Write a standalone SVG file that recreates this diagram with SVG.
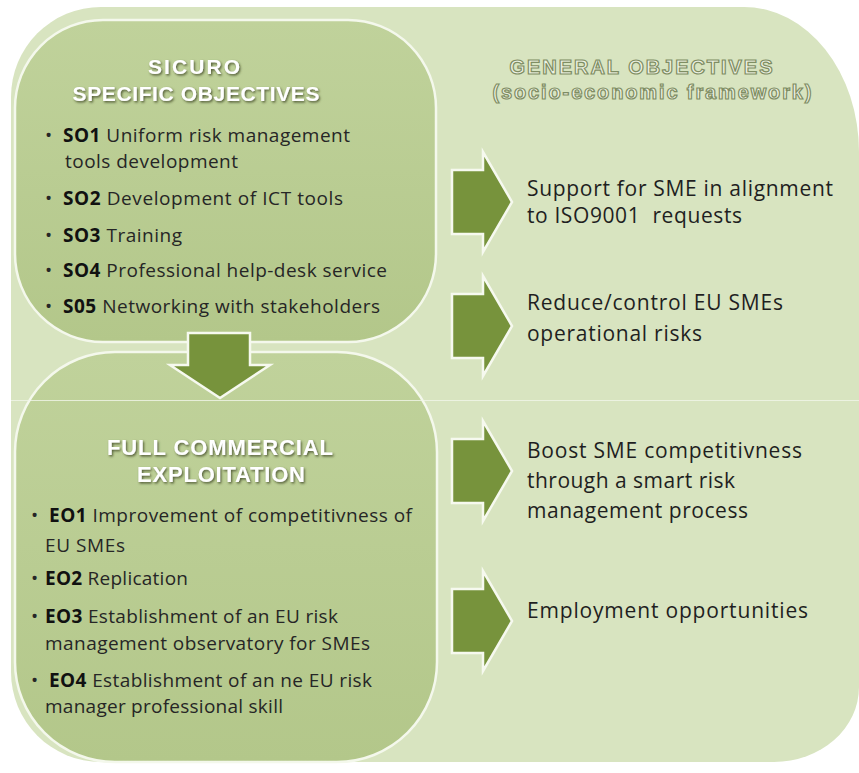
<svg xmlns="http://www.w3.org/2000/svg" width="859" height="773" viewBox="0 0 859 773">
<defs>
<filter id="sh" x="-10%" y="-30%" width="120%" height="160%">
<feDropShadow dx="1.2" dy="1.5" stdDeviation="1" flood-color="#3f4a28" flood-opacity="0.85"/>
</filter>
<linearGradient id="boxg" x1="0" y1="0" x2="0" y2="1">
<stop offset="0" stop-color="#c0d29b"/>
<stop offset="1" stop-color="#b3c78a"/>
</linearGradient>
<style>
text{font-family:"Open Sans","Liberation Sans",sans-serif}
.box{fill:url(#boxg);stroke:#f4f8ec;stroke-width:2.5}
.hdr{font-family:"Liberation Sans","Open Sans",sans-serif;font-weight:700;fill:#ffffff;text-anchor:middle}
.body{font-size:19px;fill:#262626}
.b{font-weight:700;fill:#111111}
.go{font-size:21px;fill:#1f1f1f;white-space:pre}
.gh{font-family:"Liberation Sans","Open Sans",sans-serif;font-weight:700;font-size:20px;fill:#eef3e3;stroke:#7f8d63;stroke-width:1.2;text-anchor:middle}
.arr{fill:#77933c;stroke:#f6f9ef;stroke-width:2.5;stroke-linejoin:miter}
</style>
</defs>
<g id="background">
<path d="M101,7 H744 A115,145 0 0 1 859,152 V687 A85,75 0 0 1 774,762 H101 A90,90 0 0 1 11,672 V97 A90,90 0 0 1 101,7 Z" fill="#d8e4c0"/>
</g>
<g id="node-specific-objectives">
<rect class="box" x="15" y="20" width="421" height="322" rx="88"/>
<text class="hdr" x="194" y="74" font-size="21" textLength="92" filter="url(#sh)">SICURO</text>
<text class="hdr" x="196" y="101" font-size="21" textLength="247" filter="url(#sh)">SPECIFIC OBJECTIVES</text>
<text class="body" x="45" y="142">•</text>
<text class="body" x="63" y="142" textLength="287"><tspan class="b">SO1</tspan> Uniform risk management</text>
<text class="body" x="65" y="168" textLength="173">tools development</text>
<text class="body" x="45" y="205">•</text>
<text class="body" x="63" y="205" textLength="280"><tspan class="b">SO2</tspan> Development of ICT tools</text>
<text class="body" x="45" y="242">•</text>
<text class="body" x="63" y="242" textLength="119"><tspan class="b">SO3</tspan> Training</text>
<text class="body" x="45" y="277">•</text>
<text class="body" x="63" y="277" textLength="324"><tspan class="b">SO4</tspan> Professional help-desk service</text>
<text class="body" x="45" y="313">•</text>
<text class="body" x="63" y="313" textLength="317"><tspan class="b">S05</tspan> Networking with stakeholders</text>
</g>
<g id="node-commercial-exploitation">
<rect class="box" x="15" y="352" width="422" height="410" rx="100"/>
<text class="hdr" x="220" y="455" font-size="22" textLength="226" filter="url(#sh)">FULL COMMERCIAL</text>
<text class="hdr" x="221" y="482" font-size="22" textLength="168" filter="url(#sh)">EXPLOITATION</text>
<text class="body" x="31" y="522">•</text>
<text class="body" x="49" y="522" textLength="363"><tspan class="b">EO1</tspan> Improvement of competitivness of</text>
<text class="body" x="45" y="552" textLength="80">EU SMEs</text>
<text class="body" x="31" y="585">•</text>
<text class="body" x="45" y="585" textLength="143"><tspan class="b">EO2</tspan> Replication</text>
<text class="body" x="31" y="623">•</text>
<text class="body" x="45" y="623" textLength="293"><tspan class="b">EO3</tspan> Establishment of an EU risk</text>
<text class="body" x="45" y="650" textLength="325">management observatory for SMEs</text>
<text class="body" x="31" y="687">•</text>
<text class="body" x="49" y="687" textLength="323"><tspan class="b">EO4</tspan> Establishment of an ne EU risk</text>
<text class="body" x="45" y="713" textLength="238">manager professional skill</text>
</g>
<line x1="11" y1="400.5" x2="859" y2="400.5" stroke="#f2f6ea" stroke-width="1" opacity="0.8"/>
<g id="node-general-objectives">
<text class="gh" x="641" y="74" textLength="263">GENERAL OBJECTIVES</text>
<text class="gh" x="652" y="99" textLength="319">(socio-economic framework)</text>
</g>
<g id="node-go1">
<text class="go" x="527" y="196" textLength="306">Support for SME in alignment</text>
<text class="go" x="527" y="223" textLength="215">to ISO9001  requests</text>
</g>
<g id="node-go2">
<text class="go" x="527" y="310" textLength="256">Reduce/control EU SMEs</text>
<text class="go" x="527" y="341" textLength="175">operational risks</text>
</g>
<g id="node-go3">
<text class="go" x="527" y="458" textLength="275">Boost SME competitivness</text>
<text class="go" x="527" y="488" textLength="208">through a smart risk</text>
<text class="go" x="527" y="518" textLength="221">management process</text>
</g>
<g id="node-go4">
<text class="go" x="527" y="618" textLength="281">Employment opportunities</text>
</g>
<g id="connectors">
<path class="arr" d="M188,333 H250 V365 H270 L220,398 L170,365 H188 Z"/>
<path class="arr" d="M452,170 H483 V152 L512,202 L483,252 V234 H452 Z"/>
<path class="arr" d="M452,294 H483 V276 L512,326 L483,376 V358 H452 Z"/>
<path class="arr" d="M452,439 H483 V421 L512,471 L483,521 V503 H452 Z"/>
<path class="arr" d="M452,589 H483 V571 L512,621 L483,671 V653 H452 Z"/>
</g>
</svg>
